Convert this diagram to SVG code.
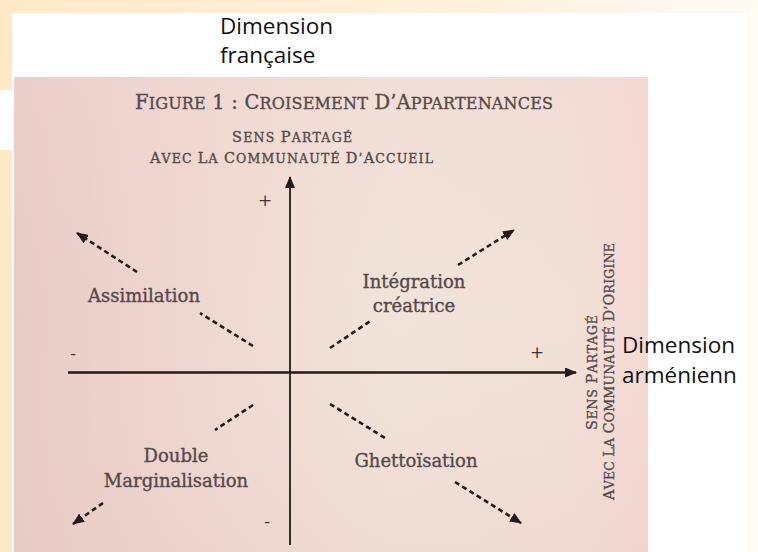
<svg xmlns="http://www.w3.org/2000/svg" width="758" height="552" viewBox="0 0 758 552">
  <defs>
    <linearGradient id="topStrip" x1="0" y1="0" x2="1" y2="0">
      <stop offset="0" stop-color="#FDE9C6"/>
      <stop offset="0.6" stop-color="#FEF1DC"/>
      <stop offset="1" stop-color="#FFFAF2"/>
    </linearGradient>
    <linearGradient id="photo" x1="0" y1="0" x2="1" y2="0">
      <stop offset="0" stop-color="#E9CBC6"/>
      <stop offset="0.35" stop-color="#EFDBD2"/>
      <stop offset="0.6" stop-color="#F1E4D9"/>
      <stop offset="0.88" stop-color="#F1E1D7"/>
      <stop offset="1" stop-color="#F4D9D3"/>
    </linearGradient>
    <linearGradient id="photoV" x1="0" y1="0" x2="0" y2="1">
      <stop offset="0" stop-color="#F3D6D2" stop-opacity="0.35"/>
      <stop offset="0.5" stop-color="#F3D6D2" stop-opacity="0"/>
      <stop offset="1" stop-color="#E8C9C4" stop-opacity="0.3"/>
    </linearGradient>
    <marker id="dashHead" viewBox="0 0 12 10" refX="11" refY="5" markerWidth="12" markerHeight="10" markerUnits="userSpaceOnUse" orient="auto">
      <path d="M0,0 L12,5 L0,10 z" fill="#231a1a"/>
    </marker>
    <marker id="axisHead" viewBox="0 0 12 10" refX="11" refY="5" markerWidth="12" markerHeight="10" markerUnits="userSpaceOnUse" orient="auto">
      <path d="M0,0 L12,5 L0,10 z" fill="#231a1a"/>
    </marker>
  </defs>
  <style>
    .slide { font-family: "Open Sans", "Noto Sans", "Liberation Sans", sans-serif; font-size: 22.5px; fill: #111111; }
    .book { font-family: "DejaVu Serif", "Liberation Serif", serif; fill: #554a4a; stroke: #554a4a; stroke-width: 0.35px; }
    .quad { font-size: 18px; text-anchor: middle; }
    .sign { font-family: "DejaVu Serif", "Liberation Serif", serif; font-size: 17px; fill: #3c3333; text-anchor: middle; }
    .big { font-size: 14.5px; }
    .sm { font-size: 12.5px; }
    .tbig { font-size: 19.5px; }
    .tsm { font-size: 16px; }
    .axis { stroke: #231a1a; fill: none; }
    .dash { stroke: #231a1a; stroke-width: 2.6; stroke-dasharray: 5 3.5; fill: none; }
  </style>

  <!-- slide background -->
  <rect x="0" y="0" width="758" height="552" fill="#ffffff"/>
  <rect x="0" y="0" width="758" height="13" fill="url(#topStrip)"/>
  <rect x="0" y="0" width="12" height="90" fill="#FDE9C6"/>
  <rect x="0" y="150" width="12" height="402" fill="#FDE9C6"/>
  <rect x="746" y="13" width="12" height="539" fill="#FFFBF4"/>

  <!-- photographed figure -->
  <rect x="14" y="77" width="634" height="475" fill="url(#photo)"/>
  <rect x="14" y="77" width="634" height="475" fill="url(#photoV)"/>

  <g id="title">
    <text class="book" x="135" y="109" textLength="418" lengthAdjust="spacing"><tspan class="tbig">F</tspan><tspan class="tsm">IGURE</tspan><tspan class="tbig"> 1 : C</tspan><tspan class="tsm">ROISEMENT</tspan><tspan class="tbig"> D’A</tspan><tspan class="tsm">PPARTENANCES</tspan></text>
  </g>

  <g id="label-accueil">
    <text class="book" x="232" y="142" textLength="120" lengthAdjust="spacing"><tspan class="big">S</tspan><tspan class="sm">ENS </tspan><tspan class="big">P</tspan><tspan class="sm">ARTAGÉ</tspan></text>
    <text class="book" x="150" y="163" textLength="283" lengthAdjust="spacing"><tspan class="big">A</tspan><tspan class="sm">VEC </tspan><tspan class="big">L</tspan><tspan class="sm">A </tspan><tspan class="big">C</tspan><tspan class="sm">OMMUNAUTÉ </tspan><tspan class="big">D</tspan><tspan class="sm">’</tspan><tspan class="big">A</tspan><tspan class="sm">CCUEIL</tspan></text>
  </g>

  <g id="label-origine">
    <text class="book" transform="translate(597,430) rotate(-90)" x="0" y="0" textLength="115" lengthAdjust="spacing"><tspan class="big">S</tspan><tspan class="sm">ENS </tspan><tspan class="big">P</tspan><tspan class="sm">ARTAGÉ</tspan></text>
    <text class="book" transform="translate(614,500) rotate(-90)" x="0" y="0" textLength="257" lengthAdjust="spacing"><tspan class="big">A</tspan><tspan class="sm">VEC </tspan><tspan class="big">L</tspan><tspan class="sm">A </tspan><tspan class="big">C</tspan><tspan class="sm">OMMUNAUTÉ </tspan><tspan class="big">D</tspan><tspan class="sm">’</tspan><tspan class="big">O</tspan><tspan class="sm">RIGINE</tspan></text>
  </g>

  <g id="dimension-francaise">
    <text class="slide" x="220" y="34">Dimension</text>
    <text class="slide" x="220" y="63">française</text>
  </g>

  <g id="dimension-armenienne">
    <text class="slide" x="622" y="353">Dimension</text>
    <text class="slide" x="622" y="383">arménienn</text>
  </g>

  <g id="signs">
    <text class="sign" x="265" y="206">+</text>
    <text class="sign" x="537" y="358">+</text>
    <text class="sign" x="73" y="359">-</text>
    <text class="sign" x="267" y="527">-</text>
  </g>

  <g id="assimilation">
    <text class="book quad" x="144" y="302">Assimilation</text>
  </g>
  <g id="integration-creatrice">
    <text class="book quad" x="414" y="288">Intégration</text>
    <text class="book quad" x="414" y="312">créatrice</text>
  </g>
  <g id="double-marginalisation">
    <text class="book quad" x="176" y="462">Double</text>
    <text class="book quad" x="176" y="487">Marginalisation</text>
  </g>
  <g id="ghettoisation">
    <text class="book quad" x="416" y="467">Ghettoïsation</text>
  </g>

  <g id="connectors">
    <line class="axis" x1="290" y1="545" x2="290" y2="177" stroke-width="1.8" marker-end="url(#axisHead)"/>
    <line class="axis" x1="68" y1="372.5" x2="576" y2="372.5" stroke-width="2.6" marker-end="url(#axisHead)"/>

    <line class="dash" x1="137" y1="272" x2="77" y2="233" marker-end="url(#dashHead)"/>
    <line class="dash" x1="253" y1="346" x2="200" y2="313"/>

    <line class="dash" x1="458" y1="265" x2="514" y2="230" marker-end="url(#dashHead)"/>
    <line class="dash" x1="330" y1="348" x2="372" y2="320"/>

    <line class="dash" x1="103" y1="503" x2="73" y2="524" marker-end="url(#dashHead)"/>
    <line class="dash" x1="253" y1="405" x2="215" y2="430"/>

    <line class="dash" x1="455" y1="482" x2="521" y2="523" marker-end="url(#dashHead)"/>
    <line class="dash" x1="330" y1="404" x2="385" y2="438"/>
  </g>
</svg>
